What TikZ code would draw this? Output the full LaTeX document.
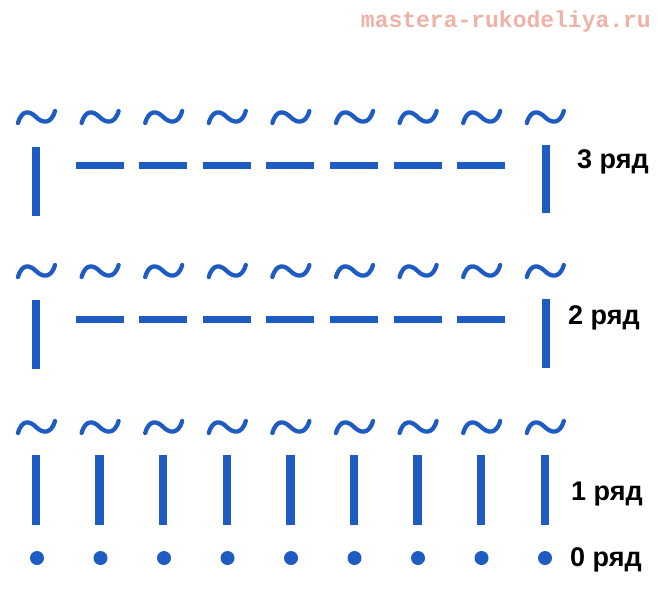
\documentclass[tikz,border=0pt]{standalone}
\usepackage{fontspec}
\setmainfont{Liberation Sans}
\newfontfamily\wmfont{Liberation Mono}
\definecolor{chartblue}{RGB}{30,92,196}
\definecolor{wmpink}{RGB}{238,178,166}
\tikzset{
  tildestroke/.style={draw=chartblue, line width=4.3pt, line cap=round},
  barstroke/.style={draw=chartblue, line width=8.5pt},
  dashstroke/.style={draw=chartblue, line width=7pt},
  rowlabel/.style={anchor=base west, inner sep=0pt, font=\fontsize{27}{30}\selectfont\bfseries, text=black},
}
\newcommand{\tildeat}[2]{%
  \draw[tildestroke] (#1-18,#2+6) .. controls (#1-14,#2-8) and (#1-6,#2-6) .. (#1,#2)
    .. controls (#1+6,#2+6) and (#1+15,#2+8) .. (#1+19,#2-6);}
\begin{document}
\begin{tikzpicture}[x=1pt,y=-1pt]
\useasboundingbox (0,0) rectangle (658,600);
\fill[white] (0,0) rectangle (658,600);
% watermark
\node[anchor=base east, inner sep=0pt, text=wmpink, font=\wmfont\bfseries\fontsize{23}{26}\selectfont] (wm) at (651,27) {mastera-rukodeliya.ru};
% tildes
\foreach \i in {0,...,8} {
  \pgfmathsetmacro{\xx}{36+63.6*\i}
  \tildeat{\xx}{117}
  \tildeat{\xx}{271}
  \tildeat{\xx}{427}
}
% row 3
\draw[barstroke] (36,147) -- (36,216);
\draw[barstroke] (546,145) -- (546,213);
\foreach \i in {1,...,7} {
  \pgfmathsetmacro{\xx}{36+63.6*\i}
  \draw[dashstroke] (\xx-24,165) -- (\xx+24,165);
}
% row 2
\draw[barstroke] (36,300) -- (36,369);
\draw[barstroke] (546,299) -- (546,368);
\foreach \i in {1,...,7} {
  \pgfmathsetmacro{\xx}{36+63.6*\i}
  \draw[dashstroke] (\xx-24,319) -- (\xx+24,319);
}
% row 1
\foreach \i in {0,...,8} {
  \pgfmathsetmacro{\xx}{36+63.6*\i}
  \draw[barstroke] (\xx,455) -- (\xx,525);
}
% row 0
\foreach \i in {0,...,8} {
  \pgfmathsetmacro{\xx}{37+63.5*\i}
  \fill[chartblue] (\xx,558) circle [radius=7pt];
}
% labels
\node[rowlabel] (r3) at (577,168) {3 ряд};
\node[rowlabel] (r2) at (568,324) {2 ряд};
\node[rowlabel] (r1) at (571,500) {1 ряд};
\node[rowlabel] (r0) at (570,566) {0 ряд};
\end{tikzpicture}
\end{document}
